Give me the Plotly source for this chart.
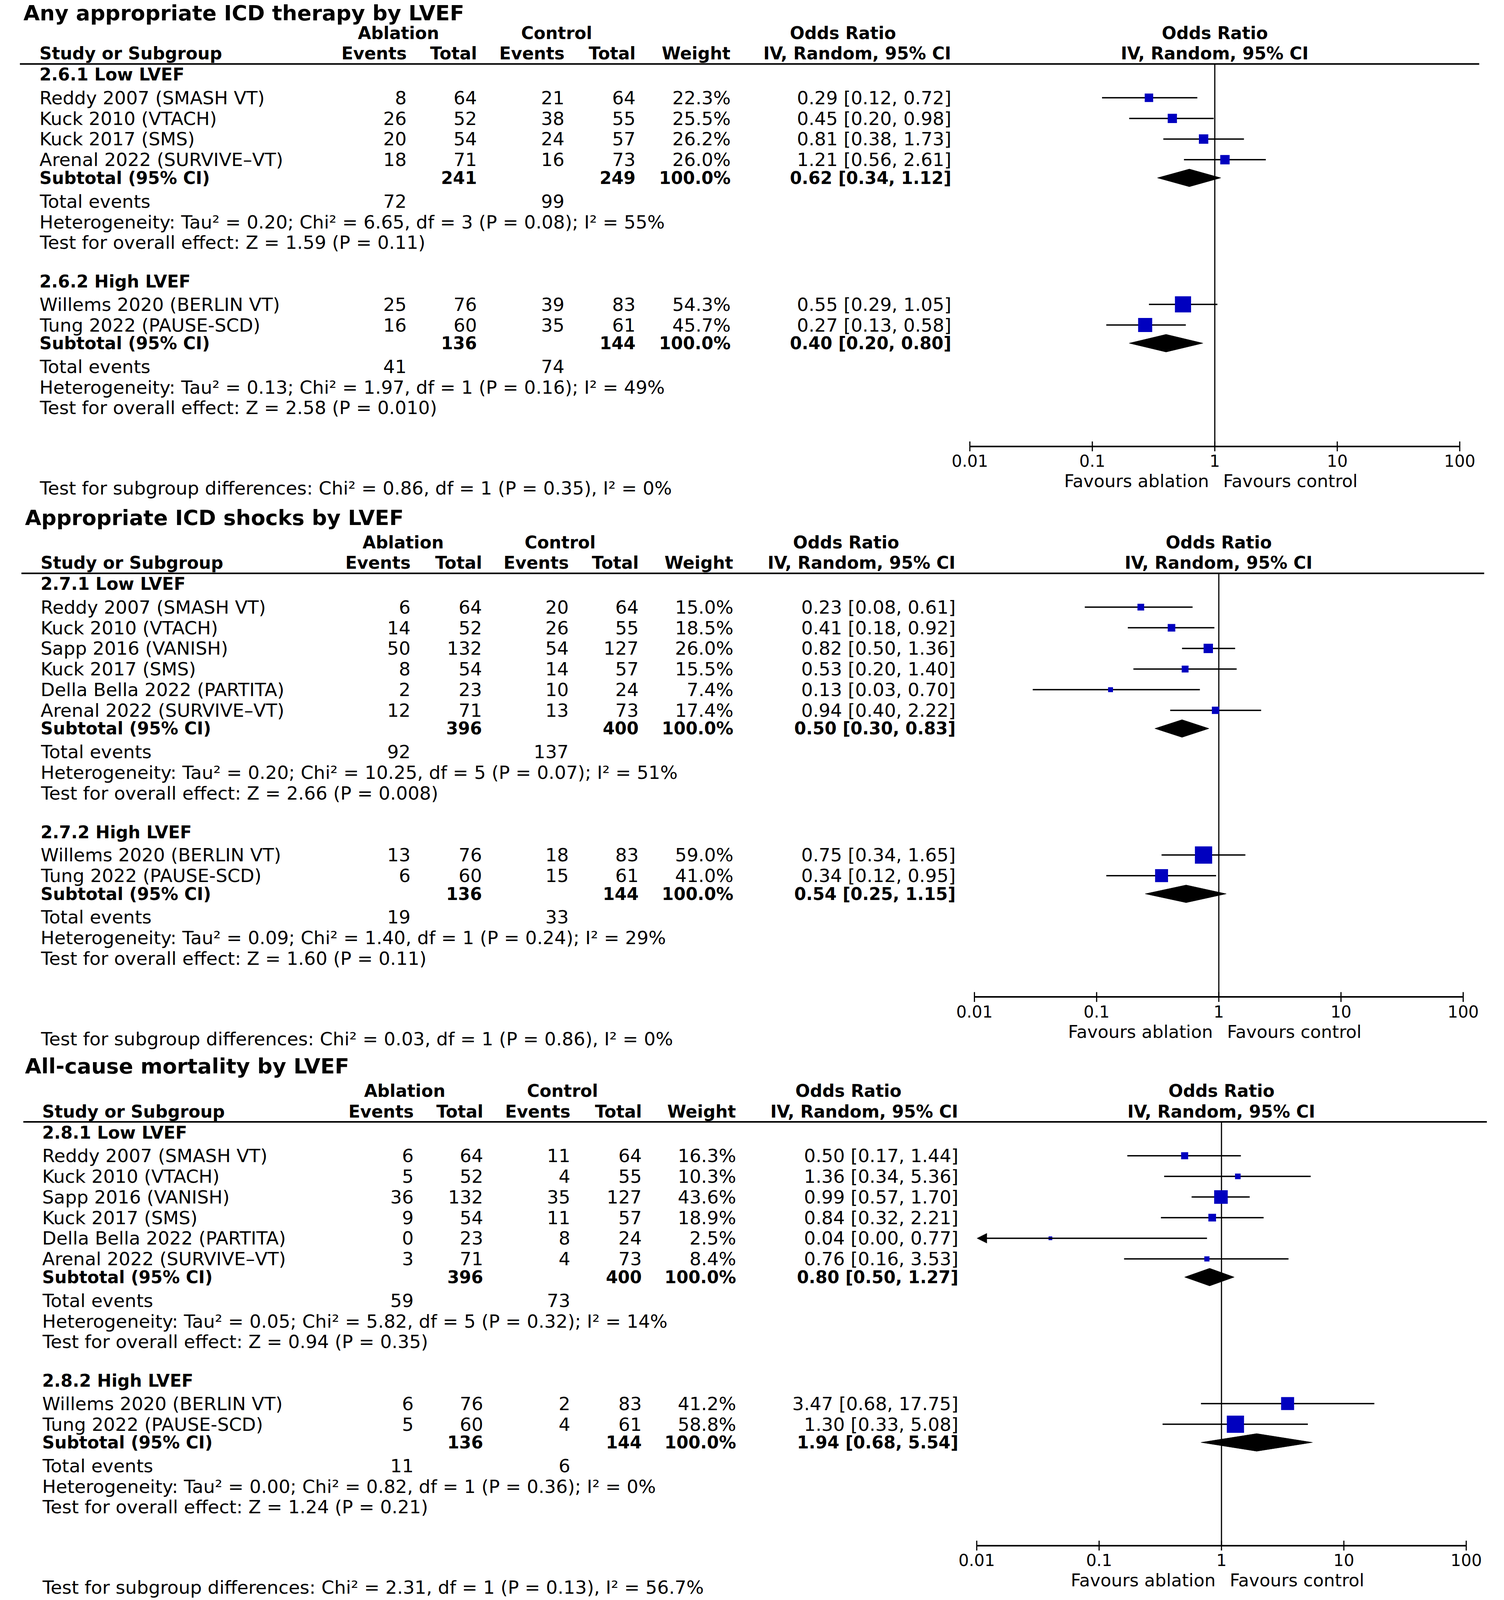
import math
import plotly.graph_objects as go

W, H = 3850, 5629          # requested canvas; all layout coordinates below are in this space
FONT = "DejaVu Sans"

# ======================= DATA =======================
TICK_VALS = [0.01, 0.1, 1, 10, 100]
TICK_TEXT = ["0.01", "0.1", "1", "10", "100"]

# ---- Panel 1: Any appropriate ICD therapy ----
ICD_TITLE = "Any appropriate ICD therapy by LVEF"
ICD_LOW_NAME = "2.6.1 Low LVEF"
ICD_LOW_STUDY = ["Reddy 2007 (SMASH VT)", "Kuck 2010 (VTACH)", "Kuck 2017 (SMS)", "Arenal 2022 (SURVIVE–VT)"]
ICD_LOW_ABL_EV = [8, 26, 20, 18]
ICD_LOW_ABL_N = [64, 52, 54, 71]
ICD_LOW_CTL_EV = [21, 38, 24, 16]
ICD_LOW_CTL_N = [64, 55, 57, 73]
ICD_LOW_WEIGHT = [22.3, 25.5, 26.2, 26.0]
ICD_LOW_OR = [0.29, 0.45, 0.81, 1.21]
ICD_LOW_LO = [0.12, 0.20, 0.38, 0.56]
ICD_LOW_HI = [0.72, 0.98, 1.73, 2.61]
ICD_LOW_SUB_N = [241, 249]
ICD_LOW_SUB_OR = [0.62, 0.34, 1.12]
ICD_LOW_EVENTS = [72, 99]
ICD_LOW_HET = ["0.20", "6.65", "3", "0.08", "55%"]
ICD_LOW_Z = ["1.59", "0.11"]

ICD_HIGH_NAME = "2.6.2 High LVEF"
ICD_HIGH_STUDY = ["Willems 2020 (BERLIN VT)", "Tung 2022 (PAUSE-SCD)"]
ICD_HIGH_ABL_EV = [25, 16]
ICD_HIGH_ABL_N = [76, 60]
ICD_HIGH_CTL_EV = [39, 35]
ICD_HIGH_CTL_N = [83, 61]
ICD_HIGH_WEIGHT = [54.3, 45.7]
ICD_HIGH_OR = [0.55, 0.27]
ICD_HIGH_LO = [0.29, 0.13]
ICD_HIGH_HI = [1.05, 0.58]
ICD_HIGH_SUB_N = [136, 144]
ICD_HIGH_SUB_OR = [0.40, 0.20, 0.80]
ICD_HIGH_EVENTS = [41, 74]
ICD_HIGH_HET = ["0.13", "1.97", "1", "0.16", "49%"]
ICD_HIGH_Z = ["2.58", "0.010"]
ICD_SUBDIFF = ["0.86", "1", "0.35", "0%"]

# ---- Panel 2: Appropriate ICD shocks ----
SHK_TITLE = "Appropriate ICD shocks by LVEF"
SHK_LOW_NAME = "2.7.1 Low LVEF"
SHK_LOW_STUDY = ["Reddy 2007 (SMASH VT)", "Kuck 2010 (VTACH)", "Sapp 2016 (VANISH)", "Kuck 2017 (SMS)",
                 "Della Bella 2022 (PARTITA)", "Arenal 2022 (SURVIVE–VT)"]
SHK_LOW_ABL_EV = [6, 14, 50, 8, 2, 12]
SHK_LOW_ABL_N = [64, 52, 132, 54, 23, 71]
SHK_LOW_CTL_EV = [20, 26, 54, 14, 10, 13]
SHK_LOW_CTL_N = [64, 55, 127, 57, 24, 73]
SHK_LOW_WEIGHT = [15.0, 18.5, 26.0, 15.5, 7.4, 17.4]
SHK_LOW_OR = [0.23, 0.41, 0.82, 0.53, 0.13, 0.94]
SHK_LOW_LO = [0.08, 0.18, 0.50, 0.20, 0.03, 0.40]
SHK_LOW_HI = [0.61, 0.92, 1.36, 1.40, 0.70, 2.22]
SHK_LOW_SUB_N = [396, 400]
SHK_LOW_SUB_OR = [0.50, 0.30, 0.83]
SHK_LOW_EVENTS = [92, 137]
SHK_LOW_HET = ["0.20", "10.25", "5", "0.07", "51%"]
SHK_LOW_Z = ["2.66", "0.008"]

SHK_HIGH_NAME = "2.7.2 High LVEF"
SHK_HIGH_STUDY = ["Willems 2020 (BERLIN VT)", "Tung 2022 (PAUSE-SCD)"]
SHK_HIGH_ABL_EV = [13, 6]
SHK_HIGH_ABL_N = [76, 60]
SHK_HIGH_CTL_EV = [18, 15]
SHK_HIGH_CTL_N = [83, 61]
SHK_HIGH_WEIGHT = [59.0, 41.0]
SHK_HIGH_OR = [0.75, 0.34]
SHK_HIGH_LO = [0.34, 0.12]
SHK_HIGH_HI = [1.65, 0.95]
SHK_HIGH_SUB_N = [136, 144]
SHK_HIGH_SUB_OR = [0.54, 0.25, 1.15]
SHK_HIGH_EVENTS = [19, 33]
SHK_HIGH_HET = ["0.09", "1.40", "1", "0.24", "29%"]
SHK_HIGH_Z = ["1.60", "0.11"]
SHK_SUBDIFF = ["0.03", "1", "0.86", "0%"]

# ---- Panel 3: All-cause mortality ----
MORT_TITLE = "All-cause mortality by LVEF"
MORT_LOW_NAME = "2.8.1 Low LVEF"
MORT_LOW_STUDY = ["Reddy 2007 (SMASH VT)", "Kuck 2010 (VTACH)", "Sapp 2016 (VANISH)", "Kuck 2017 (SMS)",
                  "Della Bella 2022 (PARTITA)", "Arenal 2022 (SURVIVE–VT)"]
MORT_LOW_ABL_EV = [6, 5, 36, 9, 0, 3]
MORT_LOW_ABL_N = [64, 52, 132, 54, 23, 71]
MORT_LOW_CTL_EV = [11, 4, 35, 11, 8, 4]
MORT_LOW_CTL_N = [64, 55, 127, 57, 24, 73]
MORT_LOW_WEIGHT = [16.3, 10.3, 43.6, 18.9, 2.5, 8.4]
MORT_LOW_OR = [0.50, 1.36, 0.99, 0.84, 0.04, 0.76]
MORT_LOW_LO = [0.17, 0.34, 0.57, 0.32, 0.00, 0.16]
MORT_LOW_HI = [1.44, 5.36, 1.70, 2.21, 0.77, 3.53]
MORT_LOW_SUB_N = [396, 400]
MORT_LOW_SUB_OR = [0.80, 0.50, 1.27]
MORT_LOW_EVENTS = [59, 73]
MORT_LOW_HET = ["0.05", "5.82", "5", "0.32", "14%"]
MORT_LOW_Z = ["0.94", "0.35"]

MORT_HIGH_NAME = "2.8.2 High LVEF"
MORT_HIGH_STUDY = ["Willems 2020 (BERLIN VT)", "Tung 2022 (PAUSE-SCD)"]
MORT_HIGH_ABL_EV = [6, 5]
MORT_HIGH_ABL_N = [76, 60]
MORT_HIGH_CTL_EV = [2, 4]
MORT_HIGH_CTL_N = [83, 61]
MORT_HIGH_WEIGHT = [41.2, 58.8]
MORT_HIGH_OR = [3.47, 1.30]
MORT_HIGH_LO = [0.68, 0.33]
MORT_HIGH_HI = [17.75, 5.08]
MORT_HIGH_SUB_N = [136, 144]
MORT_HIGH_SUB_OR = [1.94, 0.68, 5.54]
MORT_HIGH_EVENTS = [11, 6]
MORT_HIGH_HET = ["0.00", "0.82", "1", "0.36", "0%"]
MORT_HIGH_Z = ["1.24", "0.21"]
MORT_SUBDIFF = ["2.31", "1", "0.13", "56.7%"]


def group(name, study, aev, an, cev, cn, w, orr, lo, hi, subn, subor, events, het, z):
    return dict(name=name, study=study, aev=aev, an=an, cev=cev, cn=cn, w=w, orr=orr, lo=lo, hi=hi,
                subn=subn, subor=subor, events=events, het=het, z=z)


PANELS = [
    dict(title=ICD_TITLE, subdiff=ICD_SUBDIFF, groups=[
        group(ICD_LOW_NAME, ICD_LOW_STUDY, ICD_LOW_ABL_EV, ICD_LOW_ABL_N, ICD_LOW_CTL_EV, ICD_LOW_CTL_N,
              ICD_LOW_WEIGHT, ICD_LOW_OR, ICD_LOW_LO, ICD_LOW_HI, ICD_LOW_SUB_N, ICD_LOW_SUB_OR,
              ICD_LOW_EVENTS, ICD_LOW_HET, ICD_LOW_Z),
        group(ICD_HIGH_NAME, ICD_HIGH_STUDY, ICD_HIGH_ABL_EV, ICD_HIGH_ABL_N, ICD_HIGH_CTL_EV, ICD_HIGH_CTL_N,
              ICD_HIGH_WEIGHT, ICD_HIGH_OR, ICD_HIGH_LO, ICD_HIGH_HI, ICD_HIGH_SUB_N, ICD_HIGH_SUB_OR,
              ICD_HIGH_EVENTS, ICD_HIGH_HET, ICD_HIGH_Z)]),
    dict(title=SHK_TITLE, subdiff=SHK_SUBDIFF, groups=[
        group(SHK_LOW_NAME, SHK_LOW_STUDY, SHK_LOW_ABL_EV, SHK_LOW_ABL_N, SHK_LOW_CTL_EV, SHK_LOW_CTL_N,
              SHK_LOW_WEIGHT, SHK_LOW_OR, SHK_LOW_LO, SHK_LOW_HI, SHK_LOW_SUB_N, SHK_LOW_SUB_OR,
              SHK_LOW_EVENTS, SHK_LOW_HET, SHK_LOW_Z),
        group(SHK_HIGH_NAME, SHK_HIGH_STUDY, SHK_HIGH_ABL_EV, SHK_HIGH_ABL_N, SHK_HIGH_CTL_EV, SHK_HIGH_CTL_N,
              SHK_HIGH_WEIGHT, SHK_HIGH_OR, SHK_HIGH_LO, SHK_HIGH_HI, SHK_HIGH_SUB_N, SHK_HIGH_SUB_OR,
              SHK_HIGH_EVENTS, SHK_HIGH_HET, SHK_HIGH_Z)]),
    dict(title=MORT_TITLE, subdiff=MORT_SUBDIFF, groups=[
        group(MORT_LOW_NAME, MORT_LOW_STUDY, MORT_LOW_ABL_EV, MORT_LOW_ABL_N, MORT_LOW_CTL_EV, MORT_LOW_CTL_N,
              MORT_LOW_WEIGHT, MORT_LOW_OR, MORT_LOW_LO, MORT_LOW_HI, MORT_LOW_SUB_N, MORT_LOW_SUB_OR,
              MORT_LOW_EVENTS, MORT_LOW_HET, MORT_LOW_Z),
        group(MORT_HIGH_NAME, MORT_HIGH_STUDY, MORT_HIGH_ABL_EV, MORT_HIGH_ABL_N, MORT_HIGH_CTL_EV, MORT_HIGH_CTL_N,
              MORT_HIGH_WEIGHT, MORT_HIGH_OR, MORT_HIGH_LO, MORT_HIGH_HI, MORT_HIGH_SUB_N, MORT_HIGH_SUB_OR,
              MORT_HIGH_EVENTS, MORT_HIGH_HET, MORT_HIGH_Z)]),
]

# ======================= LAYOUT (positions / styles) =======================
GEOM = [
    dict(top=29, title_x=12, text_x=54, cols=[1018, 1202, 1431, 1618, 1866, 2444],
         abl_c=995, ctl_c=1410, or_c=2160, forest=[2492, 3775], rule=[4, 3826]),
    dict(top=1821, title_x=16, text_x=57, cols=[1028, 1215, 1443, 1626, 1873, 2455],
         abl_c=1008, ctl_c=1419, or_c=2168, forest=[2504, 3784], rule=[8, 3839]),
    dict(top=3751, title_x=16, text_x=61, cols=[1036, 1219, 1447, 1634, 1881, 2463],
         abl_c=1012, ctl_c=1425, or_c=2174, forest=[2510, 3792], rule=[13, 3846]),
]
PITCH = 72.6
REG = 47
BOLD = 44
TITLE_SIZE = 54
TICK_SIZE = 42
FAV_SIZE = 45
SQUARE_BLUE = "#0000BF"
DIAMOND_HALF = 31
CI_WIDTH = 3.5


def positions(top, counts):
    pos = dict(title=top, hdr1=top + 87, hdr2=top + 159, rule=top + 196, groups=[])
    cur = top + 233
    for gi, n in enumerate(counts):
        g = dict(head=cur)
        first = cur + (82 if gi == 0 else 80)
        g["studies"] = [first + i * PITCH for i in range(n)]
        g["sub"] = g["studies"][-1] + 64
        g["events"] = g["sub"] + 82
        g["het"] = g["events"] + 73
        g["z"] = g["het"] + 72
        pos["groups"].append(g)
        cur = g["z"] + 138
    pos["axis"] = pos["groups"][-1]["z"] + 136
    pos["favours"] = pos["axis"] + 122
    pos["subdiff"] = pos["axis"] + 147
    return pos


annotations = []
shapes = []
traces = []


def txt(x, y, s, anchor="left", size=REG, bold=False, xref="paper", yanchor="middle"):
    annotations.append(dict(
        x=(x / W if xref == "paper" else x), xref=xref, y=y, yref="y",
        text=(f"<b>{s}</b>" if bold else s), showarrow=False,
        xanchor=anchor, yanchor=yanchor, borderpad=0,
        font=dict(family=FONT, size=size, color="black")))


def fmt_or(o, l, h):
    return f"{o:.2f} [{l:.2f}, {h:.2f}]"


layout_axes = {}
xmin_log, xmax_log = math.log10(TICK_VALS[0]), math.log10(TICK_VALS[-1])

for k, (panel, geo) in enumerate(zip(PANELS, GEOM)):
    xa = "x" if k == 0 else f"x{k + 1}"
    axkey = "xaxis" if k == 0 else f"xaxis{k + 1}"
    pos = positions(geo["top"], [len(g["study"]) for g in panel["groups"]])
    cols = geo["cols"]
    tx = geo["text_x"]

    # title + headers
    if k == 0:
        txt(geo["title_x"], 2, panel["title"], size=TITLE_SIZE, bold=True, yanchor="top")
    else:
        txt(geo["title_x"], pos["title"], panel["title"], size=TITLE_SIZE, bold=True)
    txt(geo["abl_c"], pos["hdr1"], "Ablation", "center", BOLD, True)
    txt(geo["ctl_c"], pos["hdr1"], "Control", "center", BOLD, True)
    txt(geo["or_c"], pos["hdr1"], "Odds Ratio", "center", BOLD, True)
    txt(0, pos["hdr1"], "Odds Ratio", "center", BOLD, True, xref=xa)
    txt(tx, pos["hdr2"], "Study or Subgroup", "left", BOLD, True)
    for c, lab in zip(cols, ["Events", "Total", "Events", "Total", "Weight", "IV, Random, 95% CI"]):
        txt(c, pos["hdr2"], lab, "right", BOLD, True)
    txt(0, pos["hdr2"], "IV, Random, 95% CI", "center", BOLD, True, xref=xa)
    shapes.append(dict(type="line", xref="paper", yref="y", x0=geo["rule"][0] / W, x1=geo["rule"][1] / W,
                       y0=pos["rule"], y1=pos["rule"], line=dict(color="black", width=4)))

    ci_x, ci_y, sq_x, sq_y, sq_s = [], [], [], [], []
    for g, gp in zip(panel["groups"], pos["groups"]):
        txt(tx, gp["head"], g["name"], "left", BOLD, True)
        for i, y in enumerate(gp["studies"]):
            txt(tx, y, g["study"][i])
            vals = [str(g["aev"][i]), str(g["an"][i]), str(g["cev"][i]), str(g["cn"][i]),
                    f"{g['w'][i]:.1f}%", fmt_or(g["orr"][i], g["lo"][i], g["hi"][i])]
            for c, v in zip(cols, vals):
                txt(c, y, v, "right")
            lo = g["lo"][i]
            if lo < TICK_VALS[0]:
                # lower limit off scale: arrow pointing to the left edge
                annotations.append(dict(xref=xa, yref="y", x=xmin_log, y=y,
                                        axref=xa, ayref="y", ax=math.log10(g["hi"][i]), ay=y,
                                        text="", showarrow=True, arrowhead=2, arrowsize=1.5,
                                        arrowwidth=CI_WIDTH, arrowcolor="black", standoff=0))
            else:
                ci_x += [lo, g["hi"][i], None]
                ci_y += [y, y, None]
            sq_x.append(g["orr"][i])
            sq_y.append(y)
            sq_s.append(0.85 * (9.5 + 0.72 * g["w"][i]))
        # subtotal
        ys = gp["sub"]
        txt(tx, ys, "Subtotal (95% CI)", "left", BOLD, True)
        txt(cols[1], ys, str(g["subn"][0]), "right", BOLD, True)
        txt(cols[3], ys, str(g["subn"][1]), "right", BOLD, True)
        txt(cols[4], ys, "100.0%", "right", BOLD, True)
        txt(cols[5], ys, fmt_or(*g["subor"]), "right", BOLD, True)
        o, l, h = g["subor"]
        traces.append(go.Scatter(x=[l, o, h, o, l], y=[ys, ys - DIAMOND_HALF, ys, ys + DIAMOND_HALF, ys],
                                 mode="lines", fill="toself", fillcolor="black",
                                 line=dict(color="black", width=1), xaxis=xa, yaxis="y",
                                 hoverinfo="skip", showlegend=False))
        # total events etc.
        txt(tx, gp["events"], "Total events")
        txt(cols[0], gp["events"], str(g["events"][0]), "right")
        txt(cols[2], gp["events"], str(g["events"][1]), "right")
        t2, c2, df, p, i2 = g["het"]
        txt(tx, gp["het"], f"Heterogeneity: Tau² = {t2}; Chi² = {c2}, df = {df} (P = {p}); I² = {i2}")
        txt(tx, gp["z"], f"Test for overall effect: Z = {g['z'][0]} (P = {g['z'][1]})")

    c2, df, p, i2 = panel["subdiff"]
    txt(tx, pos["subdiff"], f"Test for subgroup differences: Chi² = {c2}, df = {df} (P = {p}), I² = {i2}")
    txt(0, pos["favours"], "Favours ablation", "right", FAV_SIZE, False, xref=xa)
    annotations[-1]["xshift"] = -14
    txt(0, pos["favours"], "Favours control", "left", FAV_SIZE, False, xref=xa)
    annotations[-1]["xshift"] = 20

    # null line at OR = 1
    traces.append(go.Scatter(x=[1, 1], y=[pos["rule"], pos["axis"]], mode="lines",
                             line=dict(color="black", width=3), xaxis=xa, yaxis="y",
                             hoverinfo="skip", showlegend=False))
    # confidence intervals
    traces.append(go.Scatter(x=ci_x, y=ci_y, mode="lines", line=dict(color="black", width=CI_WIDTH),
                             xaxis=xa, yaxis="y", hoverinfo="skip", showlegend=False, connectgaps=False))
    # study squares
    traces.append(go.Scatter(x=sq_x, y=sq_y, mode="markers",
                             marker=dict(symbol="square", size=sq_s, color=SQUARE_BLUE, opacity=1,
                                         line=dict(width=0)),
                             xaxis=xa, yaxis="y", hoverinfo="skip", showlegend=False, cliponaxis=False))
    # tick marks crossing the axis line
    traces.append(go.Scatter(x=TICK_VALS, y=[pos["axis"]] * len(TICK_VALS), mode="markers",
                             marker=dict(symbol="line-ns", size=18, line=dict(color="black", width=3)),
                             xaxis=xa, yaxis="y", hoverinfo="skip", showlegend=False, cliponaxis=False))

    layout_axes[axkey] = dict(
        type="log", range=[xmin_log, xmax_log], domain=[geo["forest"][0] / W, geo["forest"][1] / W],
        anchor="free", position=1 - pos["axis"] / H, showline=True, linecolor="black", linewidth=4,
        ticks="", tickvals=TICK_VALS, ticktext=TICK_TEXT,
        tickfont=dict(family=FONT, size=TICK_SIZE, color="black"),
        showgrid=False, zeroline=False, fixedrange=True)

fig = go.Figure(data=traces)
fig.update_layout(
    width=W, height=H, margin=dict(l=0, r=0, t=0, b=0, pad=0),
    paper_bgcolor="white", plot_bgcolor="rgba(0,0,0,0)", showlegend=False,
    yaxis=dict(range=[H, 0], domain=[0, 1], visible=False, fixedrange=True, anchor="x"),
    annotations=annotations, shapes=shapes, **layout_axes)

# The page is shown in a window that may be shorter than the requested canvas:
# fit the whole figure to the visible height so nothing is cut off.
fit_script = ("document.body.style.margin='0';"
              "var gd=document.getElementById('{plot_id}');"
              "var vh=window.innerHeight;"
              "if(vh>0&&vh<%d){Plotly.relayout(gd,{height:vh});}" % H)
fig.write_html("out.html", config={"displayModeBar": False}, post_script=fit_script)
